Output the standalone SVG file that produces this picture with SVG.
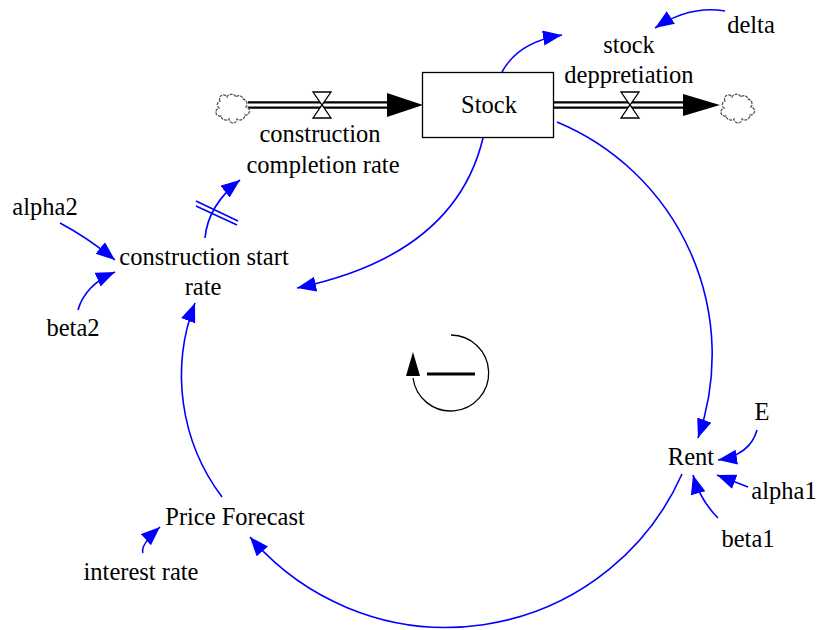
<svg xmlns="http://www.w3.org/2000/svg" width="818" height="630" viewBox="0 0 818 630">
<style>
text { font-family: "Liberation Serif", "Times New Roman", serif; font-size: 24.5px; fill: #000; text-anchor: middle; }
.link { fill: none; stroke: #0000FF; stroke-width: 1.6; marker-end: url(#ah); }
.pipeo { stroke: #000; stroke-width: 7.5; fill: none; }
.pipei { stroke: #fff; stroke-width: 3; fill: none; }
.valve { fill: #fff; stroke: #000; stroke-width: 1.3; }
.cloud { fill: #fff; stroke: #555; stroke-width: 1.3; stroke-dasharray: 3 1; }
</style>
<defs>
<marker id="ah" markerUnits="userSpaceOnUse" markerWidth="20" markerHeight="16" refX="19" refY="7.5" orient="auto">
<path d="M0,0 L19,7.5 L0,15 z" fill="#0000FF"/>
</marker>
<path id="cloudshape" d="M4,8 a4,4 0 0 1 7,-4 a5,5 0 0 1 9,0 a4,4 0 0 1 7,2 a5,5 0 0 1 3,8 a4,4 0 0 1 -1,8 a5,5 0 0 1 -8,4 a4,4 0 0 1 -8,0 a5,5 0 0 1 -8,-3 a4,4 0 0 1 -2,-8 a4,4 0 0 1 1,-7 z"/>
</defs>
<rect width="818" height="630" fill="#fff"/>

<g id="connectors">
<path class="link" d="M483,138 Q455,255 297,288"/>
<path class="link" d="M557,122 A252,252 0 0 1 698,438"/>
<path class="link" d="M682,474 A258,258 0 0 1 250,537"/>
<path class="link" d="M222,497 A202,202 0 0 1 195,303"/>
<path class="link" d="M205,238 Q208,205 240,180"/>
<path class="link" d="M502,72 Q518,42 562,35"/>
<path class="link" d="M725,11 Q690,5 655,28"/>
<path class="link" d="M60,223 Q88,238 115,260"/>
<path class="link" d="M78,310 Q85,285 115,272"/>
<path class="link" d="M757,430 Q750,455 718,460"/>
<path class="link" d="M748,487 L717,475"/>
<path class="link" d="M718,518 Q700,500 693,475"/>
<path class="link" d="M143,553 Q140,545 160,527"/>
<g stroke="#0000FF" stroke-width="1.6">
<line x1="196" y1="201" x2="238" y2="221"/>
<line x1="196" y1="206" x2="237" y2="225"/>
</g>
</g>

<g id="flow-construction-completion">
<line class="pipeo" x1="248" y1="105" x2="390" y2="105"/>
<line class="pipei" x1="246" y1="105" x2="392" y2="105"/>
<polygon points="387,93 423,105 387,117" fill="#000"/>
<polygon class="valve" points="313,92 331,92 322,105"/>
<polygon class="valve" points="313,118 331,118 322,105"/>
<text x="320" y="142">construction</text>
<text x="323" y="173">completion rate</text>
</g>

<g id="cloud-left"><use href="#cloudshape" class="cloud" transform="translate(216,93)"/></g>
<g id="cloud-right"><use href="#cloudshape" class="cloud" transform="translate(721,93)"/></g>

<g id="flow-stock-depreciation">
<line class="pipeo" x1="554" y1="105" x2="686" y2="105"/>
<line class="pipei" x1="554" y1="105" x2="688" y2="105"/>
<polygon points="683,94 720,105 683,116" fill="#000"/>
<polygon class="valve" points="621,92 639,92 630,105"/>
<polygon class="valve" points="621,118 639,118 630,105"/>
<text x="629" y="53">stock</text>
<text x="629" y="83">deppretiation</text>
</g>

<g id="stock">
<rect x="422.5" y="72.5" width="131" height="65" fill="#fff" stroke="#000" stroke-width="1.3"/>
<text x="489" y="113">Stock</text>
</g>

<g id="delta"><text x="751" y="33">delta</text></g>
<g id="construction-start-rate"><text x="204" y="265">construction start</text><text x="203" y="295">rate</text></g>
<g id="alpha2"><text x="45" y="215">alpha2</text></g>
<g id="beta2"><text x="73" y="336">beta2</text></g>
<g id="rent"><text x="691" y="465">Rent</text></g>
<g id="E"><text x="762" y="420">E</text></g>
<g id="alpha1"><text x="784" y="499">alpha1</text></g>
<g id="beta1"><text x="748" y="547">beta1</text></g>
<g id="price-forecast"><text x="235" y="525">Price Forecast</text></g>
<g id="interest-rate"><text x="141" y="580">interest rate</text></g>

<g id="loop">
<path d="M451,335 A38,38 0 1 1 413,378" fill="none" stroke="#000" stroke-width="1.3"/>
<polygon points="413,352 406,376 420,376" fill="#000"/>
<line x1="427" y1="374" x2="475" y2="374" stroke="#000" stroke-width="3"/>
</g>
</svg>
